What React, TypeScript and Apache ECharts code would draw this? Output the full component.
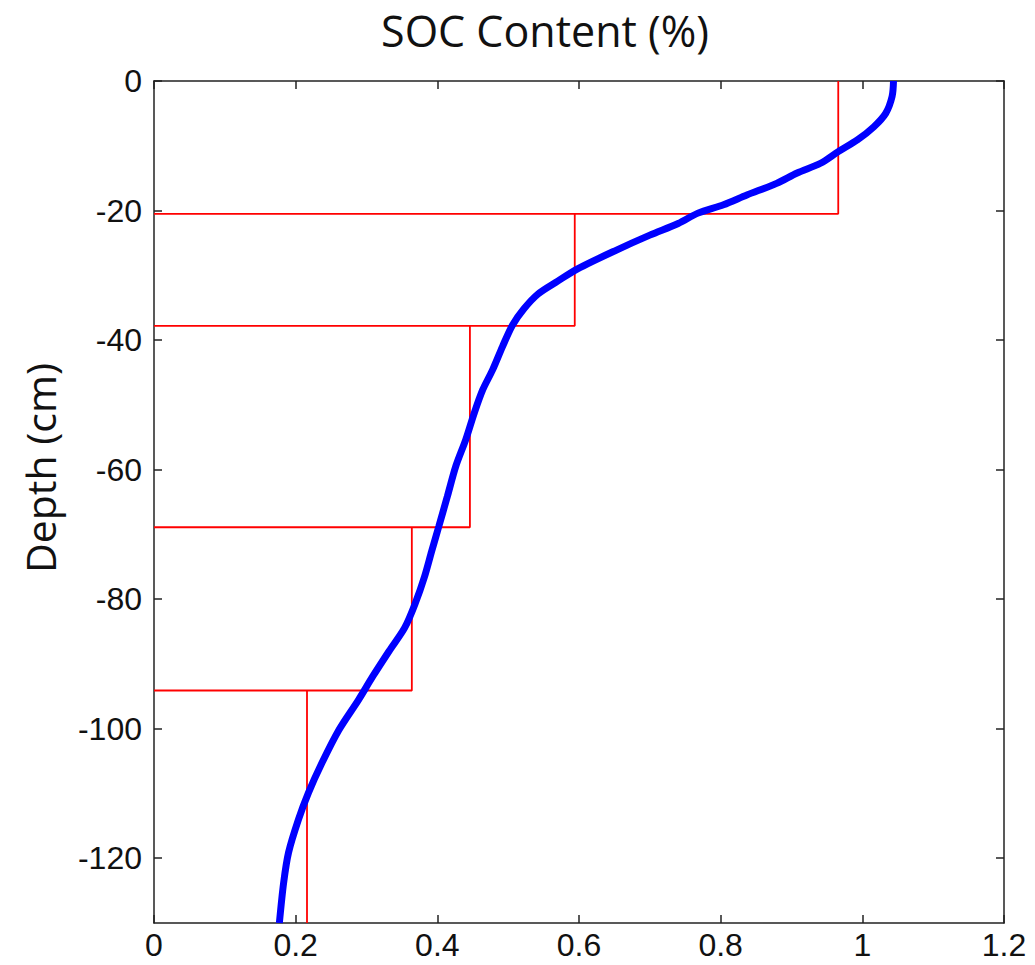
import React, { useEffect, useRef } from "react";
import * as echarts from "echarts";

// Modelled SOC profile (x = SOC %, y = depth cm)
const socValues = [1.044, 1.042, 1.033, 1.016, 0.993, 0.966, 0.941, 0.908, 0.879, 0.837, 0.804, 0.768, 0.740, 0.700, 0.653, 0.598, 0.570, 0.542, 0.522, 0.506, 0.492, 0.478, 0.464, 0.452, 0.440, 0.426, 0.414, 0.402, 0.392, 0.382, 0.369, 0.354, 0.332, 0.309, 0.289, 0.261, 0.237, 0.218, 0.204, 0.190, 0.183, 0.177];
const depthValues = [0, -2.4, -5.0, -7.1, -9.1, -10.9, -12.7, -14.2, -15.8, -17.6, -19.1, -20.4, -22.0, -23.8, -26.1, -29.0, -30.9, -32.9, -35.2, -37.7, -41.0, -44.6, -47.7, -51.3, -55.4, -59.5, -64.2, -68.8, -72.6, -76.5, -80.6, -84.4, -88.0, -91.9, -95.5, -100.2, -105.3, -109.9, -114.0, -119.1, -123.8, -130];

// Measured layer means (step profile)
const layerSoc = [0.966, 0.594, 0.446, 0.364, 0.216];
const layerTop = [0, -20.5, -37.8, -68.9, -94.1];
const layerBottom = [-20.5, -37.8, -68.9, -94.1, -130];

const xTicks = [0, 0.2, 0.4, 0.6, 0.8, 1, 1.2];
const depthTicks = [0, -20, -40, -60, -80, -100, -120];

export default function App() {
  const ref = useRef<HTMLDivElement>(null);
  useEffect(() => {
    document.body.style.margin = "0";
    const chart = echarts.init(ref.current!, null, { renderer: "svg" });
    const axisLineStyle = { color: "#222", width: 1.5 };
    const labelFont = { fontFamily: "Liberation Sans, Arial, sans-serif", fontSize: 32, color: "#111" };

    const stepSeries = layerSoc.map((v, i) => {
      const pts: number[][] = [[v, layerTop[i]], [v, layerBottom[i]]];
      if (i < layerSoc.length - 1) pts.push([0, layerBottom[i]]);
      return {
        type: "line",
        data: pts,
        symbol: "none",
        lineStyle: { color: "#ff0000", width: 1.8 },
        z: 3,
        silent: true,
      };
    });

    const baseX = {
      type: "value",
      min: 0,
      max: 1.2,
      interval: 0.2,
      axisLine: { show: true, onZero: false, lineStyle: axisLineStyle },
      axisTick: { show: true, inside: true, length: 8, lineStyle: axisLineStyle, customValues: xTicks },
      splitLine: { show: false },
    };
    const baseY = {
      type: "value",
      min: -130,
      max: 0,
      axisLine: { show: true, onZero: false, lineStyle: axisLineStyle },
      axisTick: { show: true, inside: true, length: 8, lineStyle: axisLineStyle, customValues: depthTicks },
      splitLine: { show: false },
    };

    chart.setOption({
      animation: false,
      backgroundColor: "#ffffff",
      grid: { left: 154, right: 31, top: 81, bottom: 42 },
      xAxis: [
        { ...baseX, position: "bottom", axisLabel: { ...labelFont, margin: 6, customValues: xTicks } },
        { ...baseX, position: "top", axisLabel: { show: false } },
      ],
      yAxis: [
        { ...baseY, position: "left", axisLabel: { ...labelFont, margin: 12, customValues: depthTicks } },
        { ...baseY, position: "right", axisLabel: { show: false } },
      ],
      graphic: [
        {
          type: "text",
          x: 545,
          y: 30,
          style: {
            text: "SOC Content (%)",
            fontFamily: "Open Sans, Noto Sans, sans-serif",
            fontSize: 43,
            fill: "#111",
            textAlign: "center",
            textVerticalAlign: "middle",
          },
        },
        {
          type: "text",
          x: 40,
          y: 468,
          rotation: Math.PI / 2,
          style: {
            text: "Depth (cm)",
            fontFamily: "Open Sans, Noto Sans, sans-serif",
            fontSize: 41,
            fill: "#111",
            textAlign: "center",
            textVerticalAlign: "middle",
          },
        },
      ],
      series: [
        ...stepSeries,
        {
          type: "line",
          data: socValues.map((v, i) => [v, depthValues[i]]),
          symbol: "none",
          smooth: 0.3,
          lineStyle: { color: "#0000ff", width: 7 },
          z: 4,
          silent: true,
        },
      ],
    });
    return () => chart.dispose();
  }, []);
  return <div ref={ref} style={{ width: 1035, height: 965 }} />;
}
